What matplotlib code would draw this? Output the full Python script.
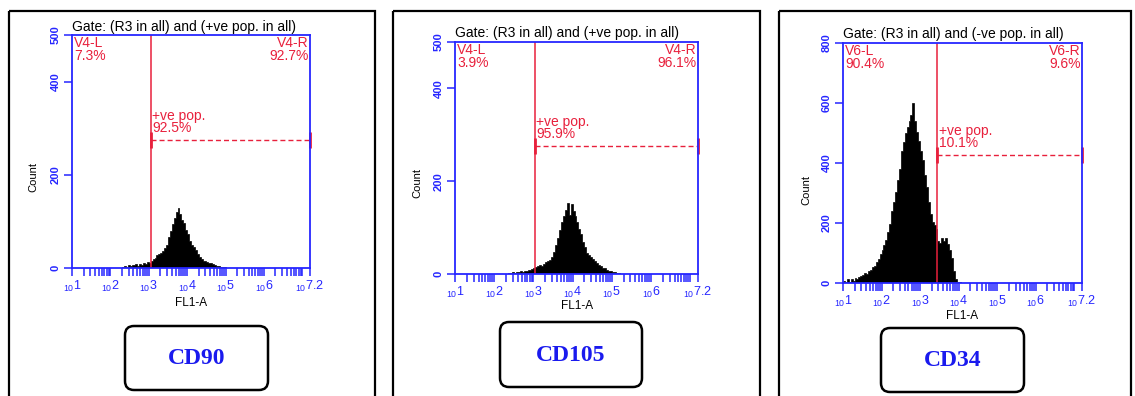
import numpy as np
import matplotlib.pyplot as plt
from matplotlib.patches import Rectangle, FancyBboxPatch
from matplotlib.ticker import FixedLocator, NullFormatter

plt.rcParams['font.family'] = ['Liberation Sans', 'DejaVu Sans']

W, H = 1135, 396
BLUE = '#2626ff'
RED = '#e8203c'

# ---- data ----
markers = ['CD90', 'CD105', 'CD34']
gate_titles = ['Gate: (R3 in all) and (+ve pop. in all)',
               'Gate: (R3 in all) and (+ve pop. in all)',
               'Gate: (R3 in all) and (-ve pop. in all)']
left_names = ['V4-L', 'V4-L', 'V6-L']
right_names = ['V4-R', 'V4-R', 'V6-R']
left_pct = ['7.3%', '3.9%', '90.4%']
right_pct = ['92.7%', '96.1%', '9.6%']
pos_pct = ['92.5%', '95.9%', '10.1%']
gate_log = [3.06, 3.04, 3.45]          # gate position, log10(FL1-A)
pos_level = [275, 276, 426]            # +ve pop. marker height (counts)
y_max = [500, 500, 800]
y_ticks = [[0, 200, 400, 500], [0, 200, 400, 500], [0, 200, 400, 600, 800]]
x_labelled = [1, 2, 3, 4, 5, 6]
x_end = 7.2

bin_width = 0.05  # decades per histogram bin

cd90_start = 2.30
cd90_counts = [2, 4, 3, 6, 5, 7, 6, 8, 5, 9, 7, 10, 8, 12, 11, 14,
               20, 22, 28, 31, 33, 36, 42, 50, 66, 80, 94, 108, 120, 129,
               116, 104, 96, 82, 72, 58, 50, 44, 38, 29, 24, 19, 16, 15,
               12, 11, 10, 8, 6, 5, 4, 3, 2, 2, 1, 0, 1, 0, 1]

cd105_start = 2.30
cd105_counts = [1, 3, 2, 4, 3, 5, 4, 6, 5, 7, 6, 8, 9, 11, 13, 15,
                17, 19, 18, 22, 25, 27, 30, 36, 48, 62, 78, 94, 112, 124,
                138, 152, 128, 151, 136, 124, 112, 98, 86, 70, 58, 45, 40,
                36, 33, 28, 24, 20, 17, 14, 12, 9, 7, 6, 5, 4, 3, 2, 1, 1]

cd34_start = 1.00
cd34_counts = [8, 3, 12, 5, 14, 8, 16, 12, 20, 24, 28, 32, 30, 40, 44,
               52, 58, 70, 80, 96, 110, 128, 145, 170, 198, 240, 270, 305,
               345, 380, 440, 470, 500, 520, 540, 560, 600, 540, 505, 475,
               440, 410, 360, 320, 270, 230, 205, 195, 180, 140, 135, 150,
               140, 150, 130, 110, 85, 40, 15, 5, 2]

hist_starts = [cd90_start, cd105_start, cd34_start]
hist_counts = [cd90_counts, cd105_counts, cd34_counts]

# ---- layout in pixels (left, top, right, bottom) ----
axes_px = [(72, 35, 310, 268), (455, 42, 698, 274), (843, 43, 1082, 283)]
frame_px = [(9, 11, 375), (393, 11, 760), (779, 11, 1131)]
title_base = [31, 37, 38]
count_xy = [(33, 177), (417, 183), (806, 190)]
fl1_xy = [(191, 303), (577, 306), (962, 316)]
box_px = [(125, 326, 268, 390), (500, 322, 642, 387), (881, 328, 1024, 392)]


def frac(l, t, r, b):
    return [l / W, 1 - b / H, (r - l) / W, (b - t) / H]


def dec_label(e):
    return r'${}_{\mathregular{10}}$' + str(e)


# log minor ticks 1..9 in each decade up to the axis end
minor_x = [m * 10.0 ** d for d in range(1, 8) for m in range(1, 10)
           if m * 10.0 ** d <= 10 ** x_end]

fig = plt.figure(figsize=(W / 100, H / 100), dpi=100)
bg = fig.add_axes([0, 0, 1, 1], zorder=0)
bg.set_xlim(0, W)
bg.set_ylim(H, 0)
bg.axis('off')

for i in range(3):
    l, t, r, b = axes_px[i]

    # outer panel frame and marker box
    fl, ft, fr = frame_px[i]
    bg.add_patch(Rectangle((fl, ft), fr - fl, H + 20, fill=False,
                           ec='black', lw=1.6, clip_on=False))
    bl, bt, br, bb = box_px[i]
    bg.add_patch(FancyBboxPatch((bl, bt), br - bl, bb - bt,
                                boxstyle='round,pad=0,rounding_size=9',
                                fc='white', ec='black', lw=1.8))
    bg.text((bl + br) / 2, (bt + bb) / 2 + 1, markers[i], color='#1a1aee',
            family='Liberation Serif', weight='bold', size=17,
            ha='center', va='center')

    bg.text(l, title_base[i], gate_titles[i], size=10, va='baseline')
    bg.text(*count_xy[i], 'Count', rotation=90, size=8,
            ha='center', va='center')
    bg.text(*fl1_xy[i], 'FL1-A', size=8.5, ha='center', va='center')

    ax = fig.add_axes(frac(l, t, r, b), zorder=2)
    ax.set_xscale('log')
    ax.set_xlim(10 ** x_labelled[0], 10 ** x_end)
    ax.set_ylim(0, y_max[i])

    counts = np.array(hist_counts[i], dtype=float)
    edges = 10 ** (hist_starts[i] + bin_width * np.arange(len(counts) + 1))
    ax.stairs(counts, edges, fill=True, fc='black', ec='black', lw=0.5)

    # gate and +ve population marker
    g = 10 ** gate_log[i]
    ax.axvline(g, color=RED, lw=1.1)
    lvl = pos_level[i]
    ax.plot([g, 10 ** x_end], [lvl, lvl], color=RED, lw=1.0,
            ls=(0, (3.6, 2.2)), clip_on=False)
    cap = 8 * y_max[i] / (b - t)
    for cx in (g, 10 ** x_end):
        ax.plot([cx, cx], [lvl - cap, lvl + cap], color=RED, lw=2.0,
                clip_on=False, solid_capstyle='butt')
    ax.text(g * 1.08, lvl + 0.02 * y_max[i], '+ve pop.\n' + pos_pct[i],
            color=RED, size=10, ha='left', va='bottom', linespacing=0.85)

    ax.text(0.008, 0.995, left_names[i] + '\n' + left_pct[i], color=RED,
            size=10, ha='left', va='top', linespacing=0.85,
            transform=ax.transAxes)
    ax.text(0.995, 0.995, right_names[i] + '\n' + right_pct[i], color=RED,
            size=10, ha='right', va='top', linespacing=0.85,
            transform=ax.transAxes, multialignment='right')

    for s in ax.spines.values():
        s.set_color(BLUE)
        s.set_linewidth(1.3)

    xt = [10 ** d for d in x_labelled] + [10 ** x_end]
    xl = [dec_label(d) for d in x_labelled] + [dec_label(x_end)]
    ax.xaxis.set_major_locator(FixedLocator(xt))
    ax.set_xticklabels(xl)
    ax.xaxis.set_minor_locator(FixedLocator(minor_x))
    ax.xaxis.set_minor_formatter(NullFormatter())
    ax.tick_params(axis='x', which='both', direction='out', length=6,
                   width=1.1, color=BLUE, labelcolor=BLUE, labelsize=9,
                   pad=2)

    ax.set_yticks(y_ticks[i])
    ax.set_yticklabels([str(v) for v in y_ticks[i]], rotation=90,
                       va='center', weight='bold')
    ax.tick_params(axis='y', direction='out', length=6, width=1.1,
                   color=BLUE, labelcolor=BLUE, labelsize=8, pad=2)

fig.savefig('out.png', dpi=100)
